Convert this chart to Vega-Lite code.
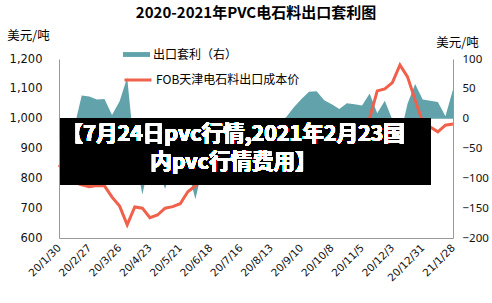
{
  "$schema": "https://vega.github.io/schema/vega-lite/v6.json",
  "width": 394,
  "height": 179,
  "autosize": {"type": "none"},
  "padding": {"left": 59, "top": 59, "right": 39, "bottom": 65},
  "background": "white",
  "title": {"text": "2020-2021年PVC电石料出口套利图", "font": "Noto Sans CJK SC", "fontSize": 15, "fontWeight": "bold", "color": "#000", "anchor": "middle", "frame": "group", "offset": 8},
  "config": {
    "view": {"stroke": null},
    "axis": {"grid": false, "ticks": false, "domainColor": "#999", "domainWidth": 1, "labelColor": "#111", "labelFont": "DejaVu Sans", "labelFontSize": 11.5, "titleFont": "Noto Sans CJK SC", "titleFontSize": 12.5, "titleFontWeight": "normal", "titleColor": "#000"}
  },
  "data": {"values": [
    {"d": "2020-01-30", "fob": 845, "arb": -35},
    {"d": "2020-02-06", "fob": 812, "arb": -40},
    {"d": "2020-02-13", "fob": 786, "arb": -15},
    {"d": "2020-02-20", "fob": 778, "arb": 39},
    {"d": "2020-02-27", "fob": 772, "arb": 37},
    {"d": "2020-03-05", "fob": 776, "arb": 32},
    {"d": "2020-03-12", "fob": 775, "arb": 33},
    {"d": "2020-03-19", "fob": 737, "arb": 6},
    {"d": "2020-03-26", "fob": 707, "arb": 29},
    {"d": "2020-04-02", "fob": 644, "arb": 69},
    {"d": "2020-04-09", "fob": 704, "arb": -60},
    {"d": "2020-04-16", "fob": 700, "arb": -127},
    {"d": "2020-04-23", "fob": 668, "arb": -70},
    {"d": "2020-04-30", "fob": 677, "arb": -80},
    {"d": "2020-05-07", "fob": 700, "arb": -118},
    {"d": "2020-05-14", "fob": 705, "arb": -75},
    {"d": "2020-05-21", "fob": 715, "arb": -65},
    {"d": "2020-05-28", "fob": 755, "arb": -85},
    {"d": "2020-06-04", "fob": 775, "arb": -135},
    {"d": "2020-06-11", "fob": 800, "arb": -80},
    {"d": "2020-06-18", "fob": 810, "arb": -70},
    {"d": "2020-06-25", "fob": 815, "arb": -60},
    {"d": "2020-07-02", "fob": 820, "arb": -55},
    {"d": "2020-07-09", "fob": 830, "arb": -50},
    {"d": "2020-07-16", "fob": 835, "arb": -45},
    {"d": "2020-07-23", "fob": 840, "arb": -40},
    {"d": "2020-07-30", "fob": 845, "arb": -35},
    {"d": "2020-08-06", "fob": 850, "arb": -30},
    {"d": "2020-08-13", "fob": 860, "arb": -20},
    {"d": "2020-08-20", "fob": 865, "arb": -5},
    {"d": "2020-08-27", "fob": 870, "arb": 3},
    {"d": "2020-09-03", "fob": 880, "arb": 19},
    {"d": "2020-09-10", "fob": 890, "arb": 33},
    {"d": "2020-09-17", "fob": 900, "arb": 45},
    {"d": "2020-09-24", "fob": 905, "arb": 46},
    {"d": "2020-10-01", "fob": 910, "arb": 31},
    {"d": "2020-10-08", "fob": 920, "arb": 24},
    {"d": "2020-10-15", "fob": 930, "arb": 16},
    {"d": "2020-10-22", "fob": 940, "arb": 26},
    {"d": "2020-10-29", "fob": 950, "arb": 24},
    {"d": "2020-11-05", "fob": 962, "arb": 22},
    {"d": "2020-11-12", "fob": 1002, "arb": 42},
    {"d": "2020-11-19", "fob": 1093, "arb": 9},
    {"d": "2020-11-26", "fob": 1100, "arb": 30},
    {"d": "2020-12-03", "fob": 1121, "arb": -2},
    {"d": "2020-12-10", "fob": 1180, "arb": -30},
    {"d": "2020-12-17", "fob": 1140, "arb": 25},
    {"d": "2020-12-24", "fob": 1063, "arb": 58},
    {"d": "2020-12-31", "fob": 988, "arb": 32},
    {"d": "2021-01-07", "fob": 972, "arb": 30},
    {"d": "2021-01-14", "fob": 956, "arb": 28},
    {"d": "2021-01-21", "fob": 978, "arb": 4},
    {"d": "2021-01-28", "fob": 982, "arb": 49}
  ]},
  "encoding": {
    "x": {
      "field": "d", "type": "temporal",
      "scale": {"type": "utc", "domain": [{"year": 2020, "month": 1, "date": 30, "utc": true}, {"year": 2021, "month": 1, "date": 28, "utc": true}]},
      "axis": {
        "title": null, "format": "%y/%-m/%-d", "labelAngle": -45, "labelAlign": "right", "labelBaseline": "middle", "labelPadding": 8, "labelOverlap": false, "labelFontSize": 10.5,
        "values": [
          {"year": 2020, "month": 1, "date": 30, "utc": true},
          {"year": 2020, "month": 2, "date": 27, "utc": true},
          {"year": 2020, "month": 3, "date": 26, "utc": true},
          {"year": 2020, "month": 4, "date": 23, "utc": true},
          {"year": 2020, "month": 5, "date": 21, "utc": true},
          {"year": 2020, "month": 6, "date": 18, "utc": true},
          {"year": 2020, "month": 7, "date": 16, "utc": true},
          {"year": 2020, "month": 8, "date": 13, "utc": true},
          {"year": 2020, "month": 9, "date": 10, "utc": true},
          {"year": 2020, "month": 10, "date": 8, "utc": true},
          {"year": 2020, "month": 11, "date": 5, "utc": true},
          {"year": 2020, "month": 12, "date": 3, "utc": true},
          {"year": 2020, "month": 12, "date": 31, "utc": true},
          {"year": 2021, "month": 1, "date": 28, "utc": true}
        ]
      }
    }
  },
  "layer": [
    {
      "mark": {"type": "area", "color": "#62A3AB"},
      "encoding": {
        "y": {"field": "arb", "type": "quantitative", "scale": {"domain": [-200, 100]},
          "axis": {"orient": "right", "values": [-200, -150, -100, -50, 0, 50, 100], "format": ".0f", "labelFont": "Noto Sans", "labelFontSize": 11.5, "labelPadding": 9, "title": "美元/吨", "titleAngle": 0, "titleX": 4, "titleY": -17, "titleAlign": "center", "titleBaseline": "middle"}},
        "fill": {"datum": "出口套利（右）", "scale": {"range": ["#62A3AB"]},
          "legend": {"orient": "none", "legendX": 64, "legendY": -18, "title": null, "padding": 0, "symbolType": "M-1,-0.18H1V0.18H-1Z", "symbolSize": 729, "symbolStrokeWidth": 0, "labelFont": "Noto Sans CJK SC", "labelFontSize": 12, "labelColor": "#000", "labelOffset": 3}}
      }
    },
    {
      "layer": [
        {
          "mark": {"type": "line", "color": "#F0604A", "strokeWidth": 3},
          "encoding": {
            "y": {"field": "fob", "type": "quantitative", "scale": {"domain": [600, 1200]},
              "axis": {"orient": "left", "values": [600, 700, 800, 900, 1000, 1100, 1200], "format": ",.0f", "labelPadding": 17, "title": "美元/吨", "titleAngle": 0, "titleX": -31, "titleY": -24, "titleAlign": "center", "titleBaseline": "middle"}},
            "stroke": {"datum": "FOB天津电石料出口成本价", "scale": {"range": ["#F0604A"]},
              "legend": {"orient": "none", "legendX": 64, "legendY": 6, "title": null, "padding": 0, "symbolType": "stroke", "symbolSize": 729, "symbolStrokeWidth": 3, "labelFont": "Noto Sans CJK SC", "labelFontSize": 12, "labelColor": "#000", "labelOffset": 3}}
          }
        },
        {
          "mark": {"type": "rect", "color": "#000"},
          "encoding": {
            "x": {"datum": {"year": 2020, "month": 1, "date": 31, "utc": true}},
            "x2": {"datum": {"year": 2021, "month": 1, "date": 7, "utc": true}},
            "y": {"datum": 1000, "axis": {"orient": "left", "values": [600, 700, 800, 900, 1000, 1100, 1200], "format": ",.0f", "labelPadding": 17, "title": "美元/吨", "titleAngle": 0, "titleX": -31, "titleY": -24, "titleAlign": "center", "titleBaseline": "middle"}},
            "y2": {"datum": 780}
          }
        },
        {
          "mark": {"type": "text", "font": "Noto Sans CJK SC", "fontSize": 21.5, "fontWeight": "bold", "color": "#fff", "lineHeight": 28, "align": "center", "baseline": "middle"},
          "encoding": {
            "x": {"datum": {"year": 2020, "month": 7, "date": 9, "utc": true}},
            "y": {"datum": 945, "axis": {"orient": "left", "values": [600, 700, 800, 900, 1000, 1100, 1200], "format": ",.0f", "labelPadding": 17, "title": "美元/吨", "titleAngle": 0, "titleX": -31, "titleY": -24, "titleAlign": "center", "titleBaseline": "middle"}},
            "text": {"value": ["【7月24日pvc行情,2021年2月23国", "内pvc行情费用】"]}
          }
        }
      ]
    }
  ],
  "resolve": {"scale": {"y": "independent"}}
}
